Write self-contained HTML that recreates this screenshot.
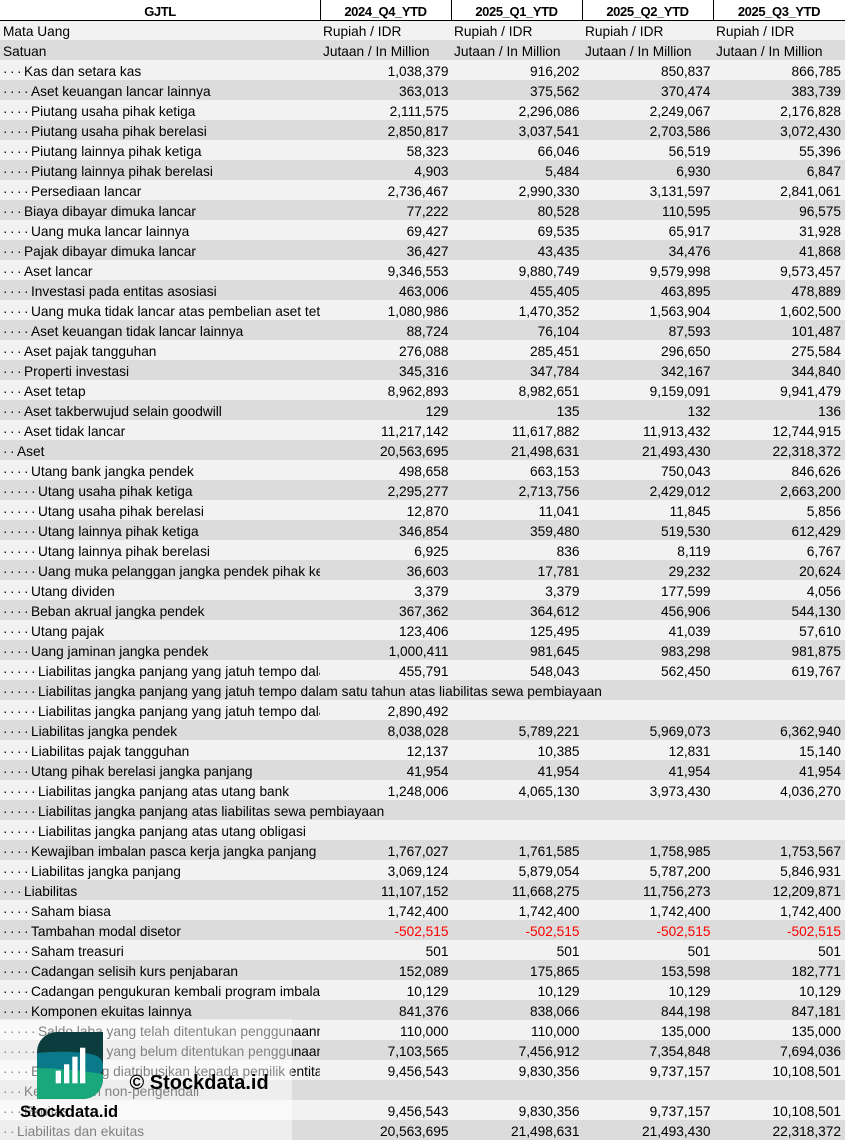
<!DOCTYPE html>
<html><head><meta charset="utf-8">
<style>
html,body{margin:0;padding:0;background:#fff}
#c{position:relative;width:845px;height:1141px;overflow:hidden;background:#fff;font-family:"Liberation Sans",Arial,sans-serif;font-size:13.7px;color:#000}
.r{position:absolute;left:0;width:845px;height:20px}
.l{background:#f2f2f2}.d{background:#dcdcdc}
.t{position:absolute;left:0;top:1.8px;width:320px;height:20px;line-height:20px;padding-left:3px;box-sizing:border-box;overflow:hidden;white-space:nowrap}
.t.o{width:845px;overflow:visible}
.t i{display:inline-block;width:7px;font-style:normal}
.n{position:absolute;top:1.8px;height:20px;line-height:20px;text-align:right;white-space:nowrap}
.a{right:396.5px}.b{right:265.5px}.c{right:134.5px}.e{right:4px}
.s{position:absolute;top:1.8px;height:20px;line-height:20px;white-space:nowrap}
.s1{left:323px}.s2{left:454px}.s3{left:585px}.s4{left:716px}
.neg{color:#ff0000}
.h{position:absolute;top:2.2px;height:20px;line-height:20px;text-align:center;font-weight:bold;font-size:13px;letter-spacing:-0.4px;white-space:nowrap}
.vl{position:absolute;top:0;width:1px;height:20px;background:#000}
</style></head><body><div id="c">
<div class="r" style="top:0;background:#fff">
<div class="h" style="left:0;width:320px">GJTL</div>
<div class="h" style="left:320px;width:131px">2024_Q4_YTD</div>
<div class="h" style="left:451px;width:131px">2025_Q1_YTD</div>
<div class="h" style="left:582px;width:131px">2025_Q2_YTD</div>
<div class="h" style="left:713px;width:132px">2025_Q3_YTD</div>
<div class="vl" style="left:320px"></div><div class="vl" style="left:451px"></div><div class="vl" style="left:582px"></div><div class="vl" style="left:713px"></div>
</div>
<div class="r l" style="top:20px"><div class="t">Mata Uang</div><div class="s s1">Rupiah / IDR</div><div class="s s2">Rupiah / IDR</div><div class="s s3">Rupiah / IDR</div><div class="s s4">Rupiah / IDR</div></div>
<div class="r d" style="top:40px"><div class="t">Satuan</div><div class="s s1">Jutaan / In Million</div><div class="s s2">Jutaan / In Million</div><div class="s s3">Jutaan / In Million</div><div class="s s4">Jutaan / In Million</div></div>
<div class="r l" style="top:60px"><div class="t"><i>·</i><i>·</i><i>·</i>Kas dan setara kas</div><div class="n a">1,038,379</div><div class="n b">916,202</div><div class="n c">850,837</div><div class="n e">866,785</div></div>
<div class="r d" style="top:80px"><div class="t"><i>·</i><i>·</i><i>·</i><i>·</i>Aset keuangan lancar lainnya</div><div class="n a">363,013</div><div class="n b">375,562</div><div class="n c">370,474</div><div class="n e">383,739</div></div>
<div class="r l" style="top:100px"><div class="t"><i>·</i><i>·</i><i>·</i><i>·</i>Piutang usaha pihak ketiga</div><div class="n a">2,111,575</div><div class="n b">2,296,086</div><div class="n c">2,249,067</div><div class="n e">2,176,828</div></div>
<div class="r d" style="top:120px"><div class="t"><i>·</i><i>·</i><i>·</i><i>·</i>Piutang usaha pihak berelasi</div><div class="n a">2,850,817</div><div class="n b">3,037,541</div><div class="n c">2,703,586</div><div class="n e">3,072,430</div></div>
<div class="r l" style="top:140px"><div class="t"><i>·</i><i>·</i><i>·</i><i>·</i>Piutang lainnya pihak ketiga</div><div class="n a">58,323</div><div class="n b">66,046</div><div class="n c">56,519</div><div class="n e">55,396</div></div>
<div class="r d" style="top:160px"><div class="t"><i>·</i><i>·</i><i>·</i><i>·</i>Piutang lainnya pihak berelasi</div><div class="n a">4,903</div><div class="n b">5,484</div><div class="n c">6,930</div><div class="n e">6,847</div></div>
<div class="r l" style="top:180px"><div class="t"><i>·</i><i>·</i><i>·</i><i>·</i>Persediaan lancar</div><div class="n a">2,736,467</div><div class="n b">2,990,330</div><div class="n c">3,131,597</div><div class="n e">2,841,061</div></div>
<div class="r d" style="top:200px"><div class="t"><i>·</i><i>·</i><i>·</i>Biaya dibayar dimuka lancar</div><div class="n a">77,222</div><div class="n b">80,528</div><div class="n c">110,595</div><div class="n e">96,575</div></div>
<div class="r l" style="top:220px"><div class="t"><i>·</i><i>·</i><i>·</i><i>·</i>Uang muka lancar lainnya</div><div class="n a">69,427</div><div class="n b">69,535</div><div class="n c">65,917</div><div class="n e">31,928</div></div>
<div class="r d" style="top:240px"><div class="t"><i>·</i><i>·</i><i>·</i>Pajak dibayar dimuka lancar</div><div class="n a">36,427</div><div class="n b">43,435</div><div class="n c">34,476</div><div class="n e">41,868</div></div>
<div class="r l" style="top:260px"><div class="t"><i>·</i><i>·</i><i>·</i>Aset lancar</div><div class="n a">9,346,553</div><div class="n b">9,880,749</div><div class="n c">9,579,998</div><div class="n e">9,573,457</div></div>
<div class="r d" style="top:280px"><div class="t"><i>·</i><i>·</i><i>·</i><i>·</i>Investasi pada entitas asosiasi</div><div class="n a">463,006</div><div class="n b">455,405</div><div class="n c">463,895</div><div class="n e">478,889</div></div>
<div class="r l" style="top:300px"><div class="t"><i>·</i><i>·</i><i>·</i><i>·</i>Uang muka tidak lancar atas pembelian aset tetap</div><div class="n a">1,080,986</div><div class="n b">1,470,352</div><div class="n c">1,563,904</div><div class="n e">1,602,500</div></div>
<div class="r d" style="top:320px"><div class="t"><i>·</i><i>·</i><i>·</i><i>·</i>Aset keuangan tidak lancar lainnya</div><div class="n a">88,724</div><div class="n b">76,104</div><div class="n c">87,593</div><div class="n e">101,487</div></div>
<div class="r l" style="top:340px"><div class="t"><i>·</i><i>·</i><i>·</i>Aset pajak tangguhan</div><div class="n a">276,088</div><div class="n b">285,451</div><div class="n c">296,650</div><div class="n e">275,584</div></div>
<div class="r d" style="top:360px"><div class="t"><i>·</i><i>·</i><i>·</i>Properti investasi</div><div class="n a">345,316</div><div class="n b">347,784</div><div class="n c">342,167</div><div class="n e">344,840</div></div>
<div class="r l" style="top:380px"><div class="t"><i>·</i><i>·</i><i>·</i>Aset tetap</div><div class="n a">8,962,893</div><div class="n b">8,982,651</div><div class="n c">9,159,091</div><div class="n e">9,941,479</div></div>
<div class="r d" style="top:400px"><div class="t"><i>·</i><i>·</i><i>·</i>Aset takberwujud selain goodwill</div><div class="n a">129</div><div class="n b">135</div><div class="n c">132</div><div class="n e">136</div></div>
<div class="r l" style="top:420px"><div class="t"><i>·</i><i>·</i><i>·</i>Aset tidak lancar</div><div class="n a">11,217,142</div><div class="n b">11,617,882</div><div class="n c">11,913,432</div><div class="n e">12,744,915</div></div>
<div class="r d" style="top:440px"><div class="t"><i>·</i><i>·</i>Aset</div><div class="n a">20,563,695</div><div class="n b">21,498,631</div><div class="n c">21,493,430</div><div class="n e">22,318,372</div></div>
<div class="r l" style="top:460px"><div class="t"><i>·</i><i>·</i><i>·</i><i>·</i>Utang bank jangka pendek</div><div class="n a">498,658</div><div class="n b">663,153</div><div class="n c">750,043</div><div class="n e">846,626</div></div>
<div class="r d" style="top:480px"><div class="t"><i>·</i><i>·</i><i>·</i><i>·</i><i>·</i>Utang usaha pihak ketiga</div><div class="n a">2,295,277</div><div class="n b">2,713,756</div><div class="n c">2,429,012</div><div class="n e">2,663,200</div></div>
<div class="r l" style="top:500px"><div class="t"><i>·</i><i>·</i><i>·</i><i>·</i><i>·</i>Utang usaha pihak berelasi</div><div class="n a">12,870</div><div class="n b">11,041</div><div class="n c">11,845</div><div class="n e">5,856</div></div>
<div class="r d" style="top:520px"><div class="t"><i>·</i><i>·</i><i>·</i><i>·</i><i>·</i>Utang lainnya pihak ketiga</div><div class="n a">346,854</div><div class="n b">359,480</div><div class="n c">519,530</div><div class="n e">612,429</div></div>
<div class="r l" style="top:540px"><div class="t"><i>·</i><i>·</i><i>·</i><i>·</i><i>·</i>Utang lainnya pihak berelasi</div><div class="n a">6,925</div><div class="n b">836</div><div class="n c">8,119</div><div class="n e">6,767</div></div>
<div class="r d" style="top:560px"><div class="t"><i>·</i><i>·</i><i>·</i><i>·</i><i>·</i>Uang muka pelanggan jangka pendek pihak ketiga</div><div class="n a">36,603</div><div class="n b">17,781</div><div class="n c">29,232</div><div class="n e">20,624</div></div>
<div class="r l" style="top:580px"><div class="t"><i>·</i><i>·</i><i>·</i><i>·</i>Utang dividen</div><div class="n a">3,379</div><div class="n b">3,379</div><div class="n c">177,599</div><div class="n e">4,056</div></div>
<div class="r d" style="top:600px"><div class="t"><i>·</i><i>·</i><i>·</i><i>·</i>Beban akrual jangka pendek</div><div class="n a">367,362</div><div class="n b">364,612</div><div class="n c">456,906</div><div class="n e">544,130</div></div>
<div class="r l" style="top:620px"><div class="t"><i>·</i><i>·</i><i>·</i><i>·</i>Utang pajak</div><div class="n a">123,406</div><div class="n b">125,495</div><div class="n c">41,039</div><div class="n e">57,610</div></div>
<div class="r d" style="top:640px"><div class="t"><i>·</i><i>·</i><i>·</i><i>·</i>Uang jaminan jangka pendek</div><div class="n a">1,000,411</div><div class="n b">981,645</div><div class="n c">983,298</div><div class="n e">981,875</div></div>
<div class="r l" style="top:660px"><div class="t"><i>·</i><i>·</i><i>·</i><i>·</i><i>·</i>Liabilitas jangka panjang yang jatuh tempo dalam satu tahun atas utang bank</div><div class="n a">455,791</div><div class="n b">548,043</div><div class="n c">562,450</div><div class="n e">619,767</div></div>
<div class="r d" style="top:680px"><div class="t o"><i>·</i><i>·</i><i>·</i><i>·</i><i>·</i>Liabilitas jangka panjang yang jatuh tempo dalam satu tahun atas liabilitas sewa pembiayaan</div></div>
<div class="r l" style="top:700px"><div class="t"><i>·</i><i>·</i><i>·</i><i>·</i><i>·</i>Liabilitas jangka panjang yang jatuh tempo dalam satu tahun atas utang obligasi</div><div class="n a">2,890,492</div></div>
<div class="r d" style="top:720px"><div class="t"><i>·</i><i>·</i><i>·</i><i>·</i>Liabilitas jangka pendek</div><div class="n a">8,038,028</div><div class="n b">5,789,221</div><div class="n c">5,969,073</div><div class="n e">6,362,940</div></div>
<div class="r l" style="top:740px"><div class="t"><i>·</i><i>·</i><i>·</i><i>·</i>Liabilitas pajak tangguhan</div><div class="n a">12,137</div><div class="n b">10,385</div><div class="n c">12,831</div><div class="n e">15,140</div></div>
<div class="r d" style="top:760px"><div class="t"><i>·</i><i>·</i><i>·</i><i>·</i>Utang pihak berelasi jangka panjang</div><div class="n a">41,954</div><div class="n b">41,954</div><div class="n c">41,954</div><div class="n e">41,954</div></div>
<div class="r l" style="top:780px"><div class="t"><i>·</i><i>·</i><i>·</i><i>·</i><i>·</i>Liabilitas jangka panjang atas utang bank</div><div class="n a">1,248,006</div><div class="n b">4,065,130</div><div class="n c">3,973,430</div><div class="n e">4,036,270</div></div>
<div class="r d" style="top:800px"><div class="t o"><i>·</i><i>·</i><i>·</i><i>·</i><i>·</i>Liabilitas jangka panjang atas liabilitas sewa pembiayaan</div></div>
<div class="r l" style="top:820px"><div class="t o"><i>·</i><i>·</i><i>·</i><i>·</i><i>·</i>Liabilitas jangka panjang atas utang obligasi</div></div>
<div class="r d" style="top:840px"><div class="t"><i>·</i><i>·</i><i>·</i><i>·</i>Kewajiban imbalan pasca kerja jangka panjang</div><div class="n a">1,767,027</div><div class="n b">1,761,585</div><div class="n c">1,758,985</div><div class="n e">1,753,567</div></div>
<div class="r l" style="top:860px"><div class="t"><i>·</i><i>·</i><i>·</i><i>·</i>Liabilitas jangka panjang</div><div class="n a">3,069,124</div><div class="n b">5,879,054</div><div class="n c">5,787,200</div><div class="n e">5,846,931</div></div>
<div class="r d" style="top:880px"><div class="t"><i>·</i><i>·</i><i>·</i>Liabilitas</div><div class="n a">11,107,152</div><div class="n b">11,668,275</div><div class="n c">11,756,273</div><div class="n e">12,209,871</div></div>
<div class="r l" style="top:900px"><div class="t"><i>·</i><i>·</i><i>·</i><i>·</i>Saham biasa</div><div class="n a">1,742,400</div><div class="n b">1,742,400</div><div class="n c">1,742,400</div><div class="n e">1,742,400</div></div>
<div class="r d" style="top:920px"><div class="t"><i>·</i><i>·</i><i>·</i><i>·</i>Tambahan modal disetor</div><div class="n a neg">-502,515</div><div class="n b neg">-502,515</div><div class="n c neg">-502,515</div><div class="n e neg">-502,515</div></div>
<div class="r l" style="top:940px"><div class="t"><i>·</i><i>·</i><i>·</i><i>·</i>Saham treasuri</div><div class="n a">501</div><div class="n b">501</div><div class="n c">501</div><div class="n e">501</div></div>
<div class="r d" style="top:960px"><div class="t"><i>·</i><i>·</i><i>·</i><i>·</i>Cadangan selisih kurs penjabaran</div><div class="n a">152,089</div><div class="n b">175,865</div><div class="n c">153,598</div><div class="n e">182,771</div></div>
<div class="r l" style="top:980px"><div class="t"><i>·</i><i>·</i><i>·</i><i>·</i>Cadangan pengukuran kembali program imbalan pasti</div><div class="n a">10,129</div><div class="n b">10,129</div><div class="n c">10,129</div><div class="n e">10,129</div></div>
<div class="r d" style="top:1000px"><div class="t"><i>·</i><i>·</i><i>·</i><i>·</i>Komponen ekuitas lainnya</div><div class="n a">841,376</div><div class="n b">838,066</div><div class="n c">844,198</div><div class="n e">847,181</div></div>
<div class="r l" style="top:1020px"><div class="t"><i>·</i><i>·</i><i>·</i><i>·</i><i>·</i>Saldo laba yang telah ditentukan penggunaannya</div><div class="n a">110,000</div><div class="n b">110,000</div><div class="n c">135,000</div><div class="n e">135,000</div></div>
<div class="r d" style="top:1040px"><div class="t"><i>·</i><i>·</i><i>·</i><i>·</i><i>·</i>Saldo laba yang belum ditentukan penggunaannya</div><div class="n a">7,103,565</div><div class="n b">7,456,912</div><div class="n c">7,354,848</div><div class="n e">7,694,036</div></div>
<div class="r l" style="top:1060px"><div class="t"><i>·</i><i>·</i><i>·</i><i>·</i>Ekuitas yang diatribusikan kepada pemilik entitas induk</div><div class="n a">9,456,543</div><div class="n b">9,830,356</div><div class="n c">9,737,157</div><div class="n e">10,108,501</div></div>
<div class="r d" style="top:1080px"><div class="t"><i>·</i><i>·</i><i>·</i>Kepentingan non-pengendali</div></div>
<div class="r l" style="top:1100px"><div class="t"><i>·</i><i>·</i><i>·</i>Ekuitas</div><div class="n a">9,456,543</div><div class="n b">9,830,356</div><div class="n c">9,737,157</div><div class="n e">10,108,501</div></div>
<div class="r d" style="top:1120px"><div class="t"><i>·</i><i>·</i>Liabilitas dan ekuitas</div><div class="n a">20,563,695</div><div class="n b">21,498,631</div><div class="n c">21,493,430</div><div class="n e">22,318,372</div></div>

<div style="position:absolute;left:0;top:20px;width:845px;height:1px;background:#000"></div>

<div style="position:absolute;left:0;top:1019px;width:292px;height:122px;background:rgba(255,255,255,0.5)"></div>

<svg style="position:absolute;left:37px;top:1032px" width="66" height="67" viewBox="0 0 66 67">
<defs><clipPath id="lf"><path d="M20 0 H66 V47 A20 20 0 0 1 46 67 H0 V20 A20 20 0 0 1 20 0 Z"/></clipPath></defs>
<g clip-path="url(#lf)">
<rect x="0" y="0" width="66" height="67" fill="#0b3c3e"/>
<path d="M0 21 C20 19 48 19 60 24 C68 28 68 40 62 42 C45 40 20 36 0 36 Z" fill="#0a7a8a"/>
<path d="M0 36 C22 36 46 39 66 42 V67 H0 Z" fill="#18a87b"/>
</g>
<rect x="18.7" y="38.7" width="5.3" height="12.6" fill="#fff"/>
<rect x="27" y="32.3" width="5.3" height="19" fill="#fff"/>
<rect x="35.3" y="24.7" width="5.3" height="26.6" fill="#fff"/>
<rect x="43" y="15.7" width="5.3" height="35.6" fill="#fff"/>
</svg>
<div style="position:absolute;left:129.5px;top:1073px;font-size:20px;line-height:20px;font-weight:bold;color:#000;white-space:nowrap">© Stockdata.id</div>
<div style="position:absolute;left:20px;top:1104px;font-size:16.5px;line-height:17px;font-weight:bold;color:#000;white-space:nowrap">Stockdata.id</div>
</div></body></html>
